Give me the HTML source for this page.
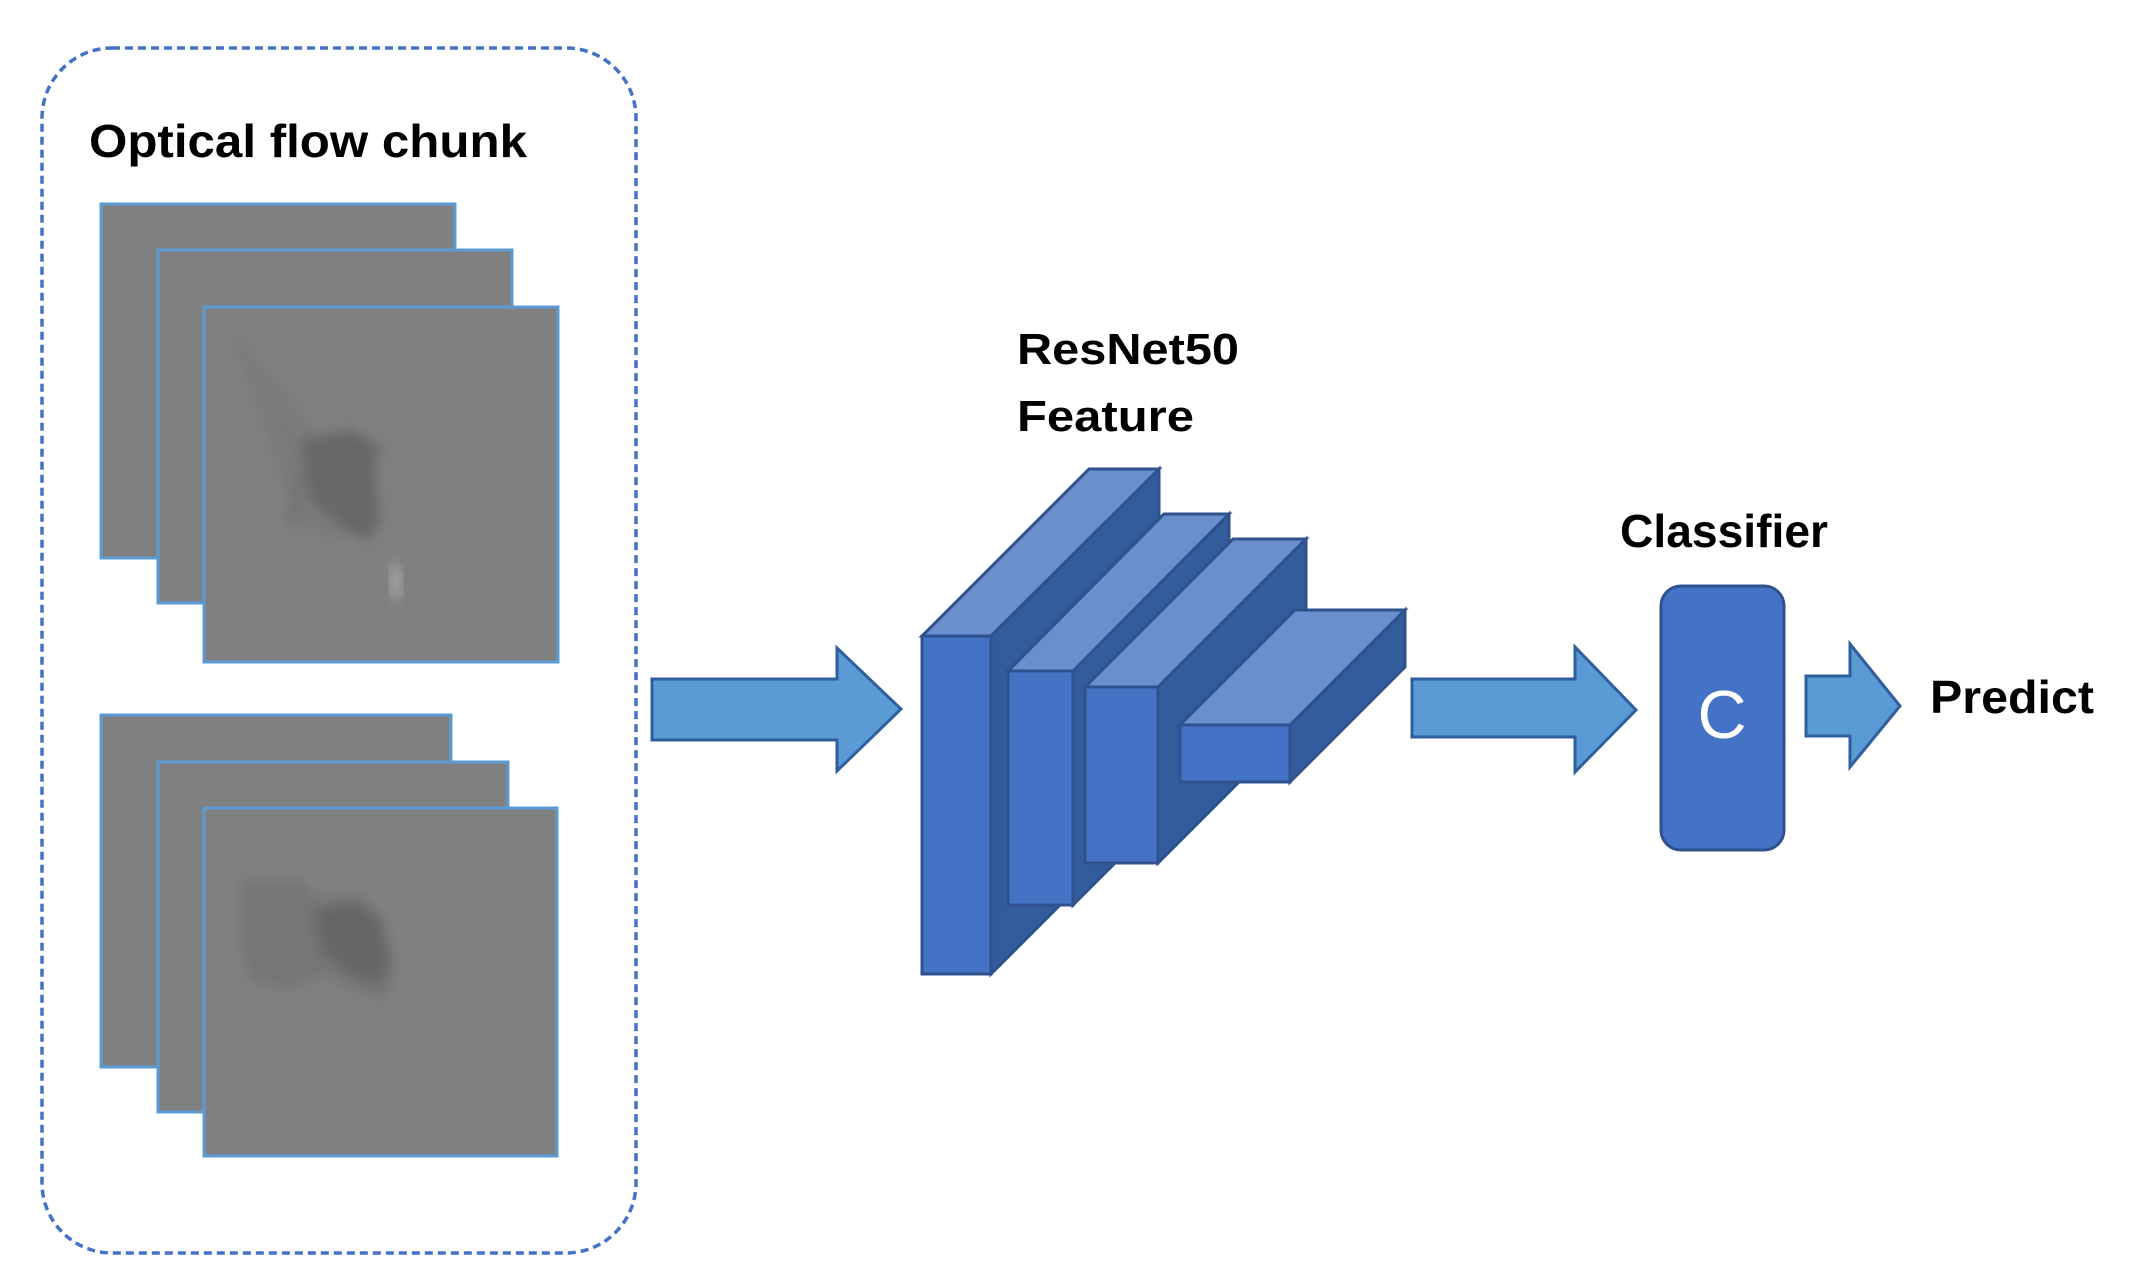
<!DOCTYPE html>
<html><head><meta charset="utf-8"><style>
html,body{margin:0;padding:0;background:#fff;}
svg{display:block;}
text{font-family:"Liberation Sans",sans-serif;font-weight:bold;fill:#000;}
</style></head><body>
<svg width="2129" height="1273" viewBox="0 0 2129 1273" xmlns="http://www.w3.org/2000/svg">
<defs>
<filter id="bl" x="-50%" y="-50%" width="200%" height="200%"><feGaussianBlur stdDeviation="6"/></filter>
</defs>
<rect x="42" y="48" width="594" height="1205" rx="70" ry="70" fill="none" stroke="#4472c4" stroke-width="3.5" stroke-dasharray="8,5"/>
<text x="89" y="157" font-size="46" textLength="438" lengthAdjust="spacingAndGlyphs">Optical flow chunk</text>

<g stroke="#5b9bd5" stroke-width="3" fill="#808080">
<rect x="101" y="204" width="354" height="354"/>
<rect x="158" y="250" width="354" height="353"/>
<rect x="204" y="307" width="354" height="355"/>
<rect x="101" y="715" width="350" height="352"/>
<rect x="158" y="762" width="350" height="350"/>
<rect x="204" y="808" width="353" height="348"/>
</g>
<g filter="url(#bl)">
<path d="M230 330 L300 410 L330 460 L360 440 L375 445 L360 500 L340 540 L300 530 Z" fill="#7a7a7a"/>
<path d="M300 440 L350 430 L380 445 L375 470 L380 520 L370 540 L345 530 L310 500 Z" fill="#686868"/>
<path d="M290 480 L305 470 L300 520 L285 530 Z" fill="#757575"/>
<path d="M240 880 L300 880 L320 900 L360 895 L385 920 L395 970 L385 1000 L360 990 L320 975 L290 990 L250 980 L240 940 Z" fill="#767676"/>
<path d="M315 910 L355 900 L380 920 L390 960 L380 985 L350 975 L320 950 Z" fill="#666"/>
</g>
<path d="M392 560 L400 575 L398 600 L392 595 Z" fill="#c8c8c8" filter="url(#bl)" opacity="0.8"/>

<g fill="#5b9bd5" stroke="#2f5f9f" stroke-width="3" stroke-linejoin="miter">
<path d="M652 679 L837 679 L837 648 L901 709 L837 771 L837 740 L652 740 Z"/>
<path d="M1412 679 L1575 679 L1575 647 L1636 710 L1575 772 L1575 737 L1412 737 Z"/>
<path d="M1811 676 L1855 676 L1855 644 L1905 706 L1855 767 L1855 736 L1811 736 Z" transform="translate(-5,0)"/>
</g>

<g stroke="#2f528f" stroke-width="3" stroke-linejoin="miter">
<polygon points="991,636 1159,469 1159,806 991,974" fill="#335c9c"/>
<polygon points="922,636 1089,469 1159,469 991,636" fill="#6a8fce"/>
<rect x="922" y="636" width="69" height="338" fill="#4472c4"/>
<polygon points="1073,671 1229,514 1229,749 1073,905" fill="#335c9c"/>
<polygon points="1008,671 1164,514 1229,514 1073,671" fill="#6a8fce"/>
<rect x="1008" y="671" width="65" height="234" fill="#4472c4"/>
<polygon points="1158,687 1306,539 1306,715 1158,863" fill="#335c9c"/>
<polygon points="1085,687 1233,539 1306,539 1158,687" fill="#6a8fce"/>
<rect x="1085" y="687" width="73" height="176" fill="#4472c4"/>
<polygon points="1290,725 1405,610 1405,667 1290,782" fill="#335c9c"/>
<polygon points="1180,725 1295,610 1405,610 1290,725" fill="#6a8fce"/>
<rect x="1180" y="725" width="110" height="57" fill="#4472c4"/>
</g>
<text x="1017" y="364" font-size="44" textLength="222" lengthAdjust="spacingAndGlyphs">ResNet50</text>
<text x="1017" y="431" font-size="44" textLength="177" lengthAdjust="spacingAndGlyphs">Feature</text>

<rect x="1667" y="586" width="123" height="264" rx="20" ry="20" fill="#4472c4" stroke="#2f528f" stroke-width="3" transform="translate(-6,0)"/>
<text x="1722" y="738" font-size="68" text-anchor="middle" style="font-weight:normal;fill:#fff">C</text>
<text x="1620" y="547" font-size="46" textLength="208" lengthAdjust="spacingAndGlyphs">Classifier</text>
<text x="1930" y="713" font-size="46" textLength="164" lengthAdjust="spacingAndGlyphs">Predict</text>
</svg>
</body></html>
